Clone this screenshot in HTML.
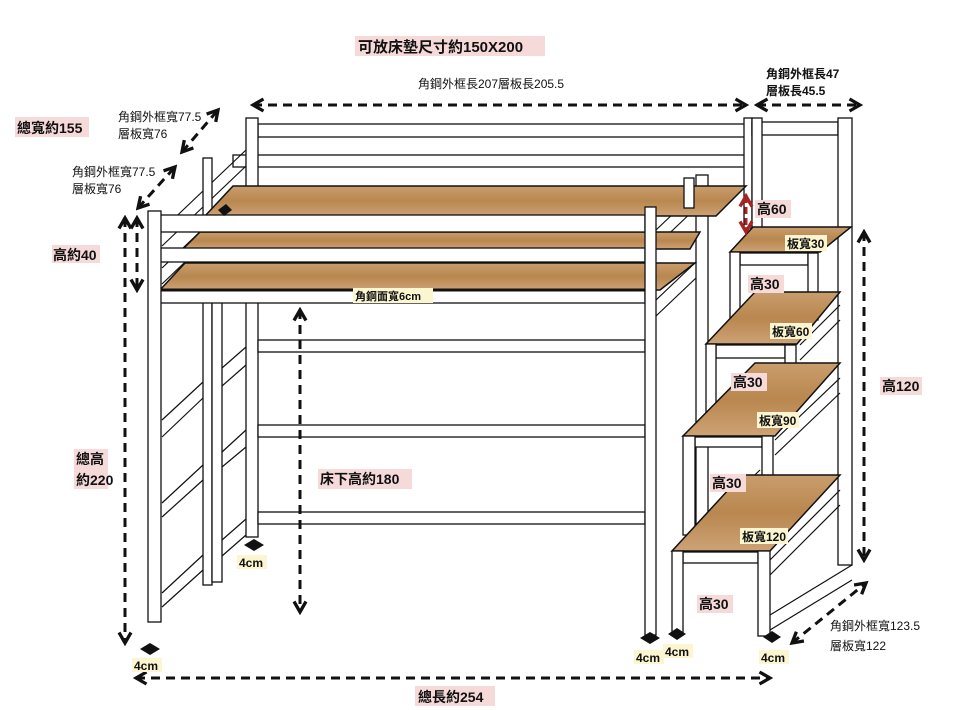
<!DOCTYPE html>
<html><head><meta charset="utf-8"><style>
body{margin:0;background:#fff}
svg{display:block}
text{font-family:"Liberation Sans","Noto Sans CJK TC",sans-serif;fill:#111}
.w{fill:#fff;stroke:#111;stroke-width:1.3}
.l{stroke:#111;stroke-width:1.2;fill:none}
.d{stroke:#111;stroke-width:3;stroke-dasharray:9 6;fill:none}
.wood{fill:url(#wg);stroke:#111;stroke-width:1.5}
</style></head><body>
<svg width="980" height="710" viewBox="0 0 980 710" xmlns="http://www.w3.org/2000/svg">
<defs>
<linearGradient id="wg" x1="0" y1="0" x2="0" y2="1">
<stop offset="0" stop-color="#c99d6c"/><stop offset="0.5" stop-color="#b9874f"/><stop offset="1" stop-color="#cda275"/>
</linearGradient>
<marker id="ah" viewBox="0 0 10 10" refX="8" refY="5" markerWidth="5" markerHeight="5" orient="auto-start-reverse">
<path d="M1,1 L8,5 L1,9" fill="none" stroke="#111" stroke-width="2.2"/></marker>
<marker id="ar" viewBox="0 0 10 10" refX="8" refY="5" markerWidth="5" markerHeight="5" orient="auto-start-reverse">
<path d="M1,1 L8,5 L1,9" fill="none" stroke="#a22" stroke-width="2.2"/></marker>
</defs>

<rect class="w" x="258" y="124" width="487" height="13"/>
<rect class="w" x="233" y="155" width="512" height="12"/>
<rect class="w" x="246" y="118" width="12" height="419"/>
<rect class="w" x="744" y="118" width="8" height="110"/>
<rect class="w" x="752" y="122" width="86" height="13"/>
<rect class="w" x="752" y="118" width="10" height="130"/>
<rect class="w" x="838" y="118" width="14" height="447"/>
<rect class="w" x="696" y="175" width="12" height="365"/>
<rect class="w" x="258" y="340" width="387" height="12"/>
<rect class="w" x="258" y="425" width="387" height="12"/>
<rect class="w" x="258" y="512" width="387" height="12"/>
<g class="l">
<line x1="162" y1="230" x2="246" y2="150"/><line x1="162" y1="246" x2="246" y2="166"/>
<line x1="162" y1="268" x2="246" y2="188"/><line x1="162" y1="284" x2="246" y2="204"/>
<line x1="162" y1="420" x2="203" y2="382"/><line x1="162" y1="437" x2="203" y2="398"/>
<line x1="162" y1="503" x2="203" y2="465"/><line x1="162" y1="517" x2="203" y2="480"/>
<line x1="162" y1="593" x2="203" y2="555"/><line x1="162" y1="607" x2="203" y2="570"/>
<line x1="222" y1="368" x2="246" y2="347"/><line x1="222" y1="386" x2="246" y2="365"/>
<line x1="222" y1="452" x2="246" y2="430"/><line x1="222" y1="467" x2="246" y2="447"/>
<line x1="222" y1="540" x2="246" y2="519"/><line x1="222" y1="556" x2="246" y2="535"/>
<line x1="656" y1="230" x2="696" y2="192"/><line x1="656" y1="246" x2="696" y2="208"/>
<line x1="656" y1="300" x2="696" y2="262"/><line x1="656" y1="316" x2="696" y2="278"/>
</g>
<rect class="w" x="203" y="158" width="9" height="427"/>
<rect class="w" x="212" y="248" width="10" height="334"/>
<polygon class="wood" points="233,186 746,186 716,216 205,216"/>
<polygon class="wood" points="200,232 700,232 690,249 183,249"/>
<polygon class="wood" points="185,263 695,263 660,290 160,290"/>
<rect class="w" x="160" y="215" width="485" height="17"/>
<rect class="w" x="160" y="248" width="485" height="14"/>
<rect class="w" x="160" y="290" width="485" height="13"/>
<line x1="160" y1="290" x2="645" y2="290" stroke="#111" stroke-width="3"/>
<rect class="w" x="148" y="211" width="13" height="411"/>
<rect class="w" x="645" y="207" width="11" height="428"/>
<rect class="w" x="684" y="178" width="10" height="30"/>

<g class="l">
<line x1="800" y1="345" x2="840" y2="305"/><line x1="800" y1="360" x2="840" y2="320"/>
<line x1="775" y1="440" x2="840" y2="378"/><line x1="775" y1="455" x2="840" y2="393"/>
<line x1="770" y1="560" x2="840" y2="490"/><line x1="770" y1="575" x2="840" y2="505"/>
<line x1="770" y1="615" x2="852" y2="565"/><line x1="770" y1="630" x2="852" y2="580"/>
<line x1="708" y1="520" x2="760" y2="470"/>
</g>
<polygon class="wood" points="753,227 851,227 820,252 730,252"/>
<rect class="w" x="740" y="253" width="68" height="12"/>
<rect class="w" x="730" y="252" width="10" height="68"/>
<rect class="w" x="808" y="253" width="10" height="67"/>
<polygon class="wood" points="755,292 840,292 797,344 706,344"/>
<rect class="w" x="716" y="345" width="69" height="13"/>
<rect class="w" x="706" y="344" width="10" height="68"/>
<rect class="w" x="785" y="345" width="11" height="67"/>
<polygon class="wood" points="755,363 840,363 775,436 683,436"/>
<rect class="w" x="695" y="437" width="67" height="10"/>
<rect class="w" x="683" y="436" width="12" height="99"/>
<rect class="w" x="762" y="436" width="11" height="94"/>
<polygon class="wood" points="742,475 840,475 770,551 672,551"/>
<rect class="w" x="683" y="552" width="75" height="11"/>
<rect class="w" x="672" y="551" width="11" height="84"/>
<rect class="w" x="758" y="551" width="12" height="85"/>

<line class="d" x1="253" y1="105" x2="746" y2="105" marker-start="url(#ah)" marker-end="url(#ah)"/>
<line class="d" x1="757" y1="105" x2="860" y2="105" marker-start="url(#ah)" marker-end="url(#ah)"/>
<line class="d" x1="136" y1="678" x2="770" y2="678" marker-start="url(#ah)" marker-end="url(#ah)"/>
<line class="d" x1="125" y1="218" x2="125" y2="643" marker-start="url(#ah)" marker-end="url(#ah)"/>
<line class="d" x1="137" y1="218" x2="137" y2="290" marker-start="url(#ah)" marker-end="url(#ah)"/>
<line class="d" x1="300" y1="310" x2="300" y2="612" marker-start="url(#ah)" marker-end="url(#ah)"/>
<line class="d" x1="864" y1="232" x2="864" y2="560" marker-start="url(#ah)" marker-end="url(#ah)"/>
<line class="d" x1="182" y1="152" x2="218" y2="110" marker-start="url(#ah)" marker-end="url(#ah)"/>
<line class="d" x1="138" y1="208" x2="175" y2="167" marker-start="url(#ah)" marker-end="url(#ah)"/>
<line class="d" x1="792" y1="643" x2="866" y2="583" marker-start="url(#ah)" marker-end="url(#ah)"/>
<line x1="746" y1="196" x2="746" y2="232" stroke="#a22" stroke-width="3" stroke-dasharray="7 4" marker-start="url(#ar)" marker-end="url(#ar)"/>

<g fill="#111">
<path d="M244,545 l10,-6 l10,6 l-10,6z"/><path d="M140,649 l10,-6 l10,6 l-10,6z"/>
<path d="M640,638 l10,-6 l10,6 l-10,6z"/><path d="M668,634 l9,-6 l9,6 l-9,6z"/><path d="M763,637 l9,-6 l9,6 l-9,6z"/>
<path d="M218,210 l8,-6 l6,6 l-8,6z"/>
</g>

<g font-size="12">
<rect x="355" y="36" width="190" height="20" fill="#f6dada"/>
<text x="358" y="52" font-size="15" font-weight="bold">可放床墊尺寸約150X200</text>
<text x="418" y="88">角鋼外框長207層板長205.5</text>
<text x="766" y="78" font-weight="bold">角鋼外框長47</text>
<text x="766" y="95" font-weight="bold">層板長45.5</text>
<rect x="15" y="117" width="74" height="20" fill="#f6dada"/>
<text x="17" y="133" font-size="14" font-weight="bold">總寬約155</text>
<text x="118" y="121">角鋼外框寬77.5</text><text x="118" y="138">層板寬76</text>
<text x="72" y="176">角鋼外框寬77.5</text><text x="72" y="193">層板寬76</text>
<rect x="52" y="245" width="48" height="18" fill="#f6dada"/>
<text x="53" y="260" font-size="14" font-weight="bold">高約40</text>
<rect x="755" y="200" width="36" height="18" fill="#f6dada"/>
<text x="757" y="214" font-size="14" font-weight="bold">高60</text>
<rect x="785" y="235" width="42" height="16" fill="#fbf5d0"/>
<text x="787" y="248" font-weight="bold">板寬30</text>
<rect x="748" y="275" width="36" height="18" fill="#f6dada"/>
<text x="750" y="289" font-size="14" font-weight="bold">高30</text>
<rect x="770" y="323" width="42" height="16" fill="#fbf5d0"/>
<text x="772" y="336" font-weight="bold">板寬60</text>
<rect x="731" y="373" width="36" height="18" fill="#f6dada"/>
<text x="733" y="387" font-size="14" font-weight="bold">高30</text>
<rect x="757" y="412" width="42" height="16" fill="#fbf5d0"/>
<text x="759" y="425" font-weight="bold">板寬90</text>
<rect x="880" y="377" width="42" height="18" fill="#f6dada"/>
<text x="882" y="391" font-size="14" font-weight="bold">高120</text>
<rect x="710" y="474" width="36" height="18" fill="#f6dada"/>
<text x="712" y="488" font-size="14" font-weight="bold">高30</text>
<rect x="740" y="528" width="48" height="16" fill="#fbf5d0"/>
<text x="742" y="541" font-weight="bold">板寬120</text>
<rect x="697" y="595" width="36" height="18" fill="#f6dada"/>
<text x="699" y="609" font-size="14" font-weight="bold">高30</text>
<rect x="74" y="449" width="34" height="40" fill="#f6dada"/>
<text x="76" y="464" font-size="14" font-weight="bold">總高</text>
<text x="76" y="485" font-size="14" font-weight="bold">約220</text>
<rect x="318" y="469" width="94" height="20" fill="#f6dada"/>
<text x="320" y="484" font-size="14" font-weight="bold">床下高約180</text>
<rect x="353" y="288" width="80" height="15" fill="#fbf5d0"/>
<text x="355" y="300" font-size="11" font-weight="bold">角鋼面寬6cm</text>
<rect x="237" y="555" width="30" height="14" fill="#fbf5d0"/><text x="239" y="567" font-weight="bold">4cm</text>
<rect x="132" y="658" width="30" height="14" fill="#fbf5d0"/><text x="134" y="670" font-weight="bold">4cm</text>
<rect x="634" y="650" width="30" height="14" fill="#fbf5d0"/><text x="636" y="662" font-weight="bold">4cm</text>
<rect x="663" y="644" width="30" height="14" fill="#fbf5d0"/><text x="665" y="656" font-weight="bold">4cm</text>
<rect x="759" y="650" width="30" height="14" fill="#fbf5d0"/><text x="761" y="662" font-weight="bold">4cm</text>
<text x="830" y="630">角鋼外框寬123.5</text><text x="830" y="650">層板寬122</text>
<rect x="415" y="686" width="80" height="20" fill="#f6dada"/>
<text x="418" y="702" font-size="14" font-weight="bold">總長約254</text>
</g>
</svg>
</body></html>
